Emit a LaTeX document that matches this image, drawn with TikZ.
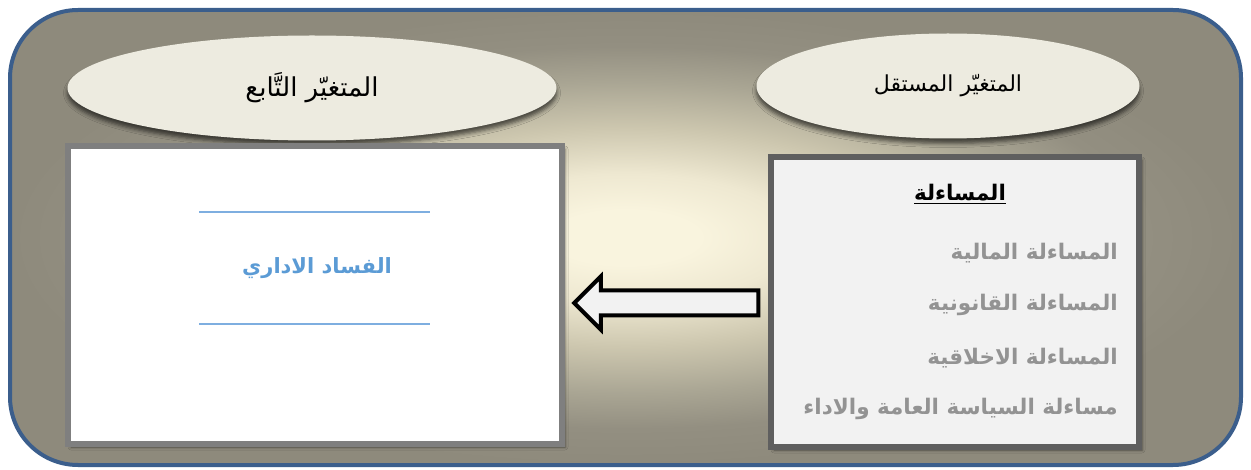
\documentclass[tikz,border=0pt]{standalone}
\usepackage{fontspec}
\usetikzlibrary{shapes.geometric,shapes.arrows,shadows.blur}
\TeXXeTstate=1
\newfontfamily\arabicfont[Script=Arabic,AutoFakeSlant=0.2]{DejaVu Sans}
\definecolor{frameblue}{HTML}{3B5E8C}
\definecolor{bgcream}{HTML}{F9F4DE}
\definecolor{bglight}{HTML}{EEE8D1}
\definecolor{bgmid}{HTML}{CDC7AF}
\definecolor{bgdim}{HTML}{AAA694}
\definecolor{bgdark}{HTML}{938F81}
\definecolor{bggray}{HTML}{8E8A7C}
\definecolor{ovalfill}{HTML}{EDEBE0}
\definecolor{boxedge}{HTML}{7F7F7F}
\definecolor{boxedgedark}{HTML}{5F5F5F}
\definecolor{boxfill}{HTML}{F2F2F2}
\definecolor{lineblue}{HTML}{7EAEE0}
\definecolor{textblue}{HTML}{5B9BD5}
\definecolor{itemgray}{HTML}{939393}
\pgfdeclareradialshading{bgglow}{\pgfpoint{0bp}{0bp}}{color(0bp)=(bgcream); color(3bp)=(bgcream); color(7bp)=(bglight); color(12bp)=(bgmid); color(17bp)=(bgdim); color(21bp)=(bgdark); color(25bp)=(bggray); color(50bp)=(bggray)}
\tikzset{
  oval/.style={ellipse, fill=ovalfill, inner sep=0pt,
    blur shadow={shadow xshift=0pt, shadow yshift=-5pt, shadow blur radius=4pt, shadow opacity=60}},
  panel/.style={rectangle, line width=6pt, inner sep=0pt,
    blur shadow={shadow xshift=3pt, shadow yshift=-3pt, shadow blur radius=3pt, shadow opacity=45}},
  heading/.style={font=\arabicfont\bfseries\fontsize{21.5}{25}\selectfont},
  item/.style={anchor=east, inner sep=0pt, text=itemgray, font=\arabicfont\bfseries\fontsize{21.5}{25}\selectfont},
  blockarrow/.style={single arrow, draw=black, fill=boxfill, line width=4pt, inner sep=10.5pt,
    minimum height=184pt, minimum width=49pt, single arrow head extend=14pt,
    single arrow tip angle=90, shape border rotate=180}
}
\begin{document}
\begin{tikzpicture}[x=1pt,y=-1pt]
\useasboundingbox (0,0) rectangle (1251,470);
\shade[shading=bgglow, rounded corners=68pt] (10,10) rectangle (1241,465);
\draw[frameblue, line width=4pt, rounded corners=68pt] (10,10) rectangle (1241,465);
% ovals
\node[oval, minimum width=489pt, minimum height=105pt, font=\arabicfont\fontsize{26}{30}\selectfont] (dependent) at (312,88) {\beginR المتغيّر التَّابع\endR};
\node[oval, minimum width=383pt, minimum height=105pt, font=\arabicfont\fontsize{22}{26}\selectfont] (independent) at (948,86) {\beginR المتغيّر المستقل\endR};
% boxes
\node[panel, draw=boxedge, fill=white, minimum width=494pt, minimum height=298pt] (outcome) at (315,295) {};
\node[panel, draw=boxedgedark, fill=boxfill, minimum width=368pt, minimum height=290pt] (cause) at (955,302) {};
\draw[lineblue, line width=1.2pt] (199,212) -- (430,212);
\draw[lineblue, line width=1.2pt] (199,324) -- (430,324);
\node[text=textblue, font=\arabicfont\bfseries\itshape\fontsize{21}{25}\selectfont] (corruption) at (317,268) {\beginR الفساد الاداري\endR};
\node[heading] (title) at (960,194) {\underline{\beginR المساءلة\endR}};
\node[item] (financial) at (1118,253) {\beginR المساءلة المالية\endR};
\node[item] (legal) at (1118,305) {\beginR المساءلة القانونية\endR};
\node[item] (ethical) at (1118,358) {\beginR المساءلة الاخلاقية\endR};
\node[item] (policy) at (1118,409) {\beginR مساءلة السياسة العامة والاداء\endR};
% arrow
\node[blockarrow] (link) at (672.5,303) {};
\end{tikzpicture}
\end{document}
